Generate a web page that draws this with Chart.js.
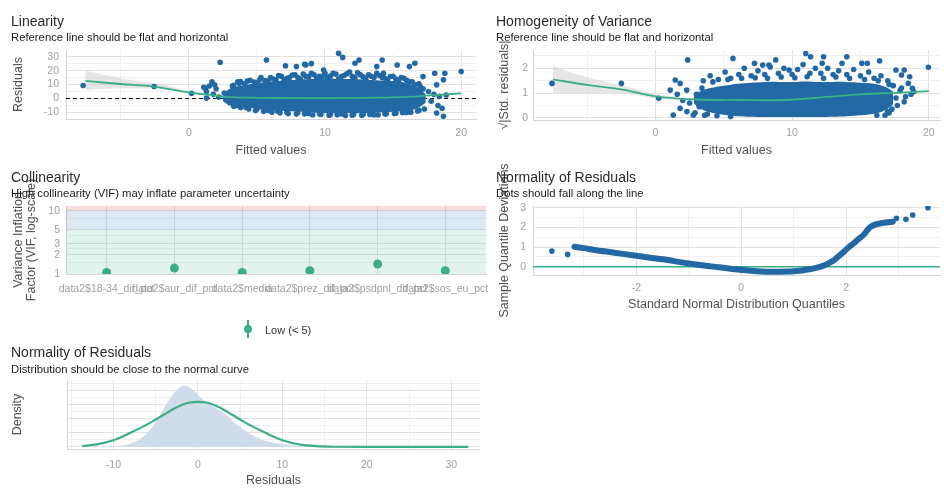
<!DOCTYPE html>
<html>
<head>
<meta charset="utf-8">
<script src="https://cdn.jsdelivr.net/npm/chart.js@4.4.0/dist/chart.umd.min.js"></script>
<style>
  body { margin: 0; background: #fff; font-family: 'Liberation Sans', Arial, sans-serif; }
  #page { position: relative; width: 944px; height: 489px; overflow: hidden; }
  canvas { position: absolute; }
  .ttl { position: absolute; font-size: 14px; line-height: 14px; color: #2a2a2a; white-space: nowrap; }
  .sub { position: absolute; font-size: 11.3px; line-height: 11px; color: #1a1a1a; white-space: nowrap; }
  .leg { position: absolute; font-size: 11px; line-height: 11px; color: #333; white-space: nowrap; }
</style>
</head>
<body>
<div id="page">
  <canvas id="lin" width="480" height="165" style="left:0;top:0"></canvas>
  <canvas id="hom" width="464" height="165" style="left:480px;top:0"></canvas>
  <canvas id="vif" width="500" height="180" style="left:0;top:160px"></canvas>
  <canvas id="qq" width="464" height="180" style="left:480px;top:145px"></canvas>
  <canvas id="dens" width="480" height="149" style="left:0;top:340px"></canvas>

  <div class="ttl" style="left:11px;top:14px">Linearity</div>
  <div class="sub" style="left:11px;top:32px">Reference line should be flat and horizontal</div>
  <div class="ttl" style="left:496px;top:14px">Homogeneity of Variance</div>
  <div class="sub" style="left:496px;top:32px">Reference line should be flat and horizontal</div>
  <div class="ttl" style="left:11px;top:170px">Collinearity</div>
  <div class="sub" style="left:11px;top:188px">High collinearity (VIF) may inflate parameter uncertainty</div>
  <div class="ttl" style="left:496px;top:170px">Normality of Residuals</div>
  <div class="sub" style="left:496px;top:188px">Dots should fall along the line</div>
  <div class="ttl" style="left:11px;top:345px">Normality of Residuals</div>
  <div class="sub" style="left:11px;top:364px">Distribution should be close to the normal curve</div>

  <div style="position:absolute;left:247px;top:320px;width:2px;height:18px;background:#3aaf85"></div>
  <div style="position:absolute;left:244px;top:325px;width:8px;height:8px;border-radius:50%;background:#3aaf85"></div>
  <div class="leg" style="left:265px;top:325px">Low (&lt; 5)</div>
</div>
<script>
// Linearity: residuals vs fitted
const linLoessX = [-7.6, -5, -2.5, 0, 2, 3.1, 5, 8, 11, 14, 16, 18, 20];
const linLoessY = [12.6, 10.4, 8.4, 4.4, 2.0, 1.0, 0.5, 0.3, 0.3, 0.6, 1.1, 2.4, 3.7];
const linBandX = [-7.6, -6, -4, -2, 0, 1.5];
const linBandHi = [20.5, 16.5, 13, 10.2, 5.3, 3.0];
const linBandLo = [6.0, 7.0, 7.3, 6.8, 3.8, 1.6];
const linBlobX = [2.5, 3, 4, 5, 6, 7, 8, 9, 10, 11, 12, 13, 14, 15, 16, 16.8, 17.4];
const linBlobHi = [3, 7, 9.5, 11, 12, 13, 13.5, 14, 14.5, 14, 14, 13.5, 13, 12.5, 11, 8, 3];
const linBlobLo = [-2, -4.5, -6, -7.5, -8.5, -9, -9.5, -10, -10.5, -10.5, -10.5, -10.5, -10, -9.5, -9, -7, -3];
const linPoints = [
  [-7.76, 9.3], [-2.55, 8.6], [0.2, 3.8], [2.3, 26], [5.7, 27.6], [11.0, 32.4], [11.3, 29.5], [20, 19.3],
  [18.06, 18.1], [18.8, 18.1], [18.7, 13.4], [18.2, 9.8], [18.2, -10.4], [18.7, -12.8], [16.6, 25.3],
  [15.3, 24], [14.2, 27.6], [12.5, 27.6], [12.2, 25.3], [9.9, 20.5], [9.0, 25], [8.6, 24], [8.5, 24.5],
  [7.9, 22.9], [7.1, 23.4], [3.8, 12.1], [1.7, 12], [1.9, 9.8], [1.2, 7.4], [1.3, 0.3], [13.8, 22.9],
  [14.3, 18.1], [16.2, 22.9], [17.2, 15.7],
  [3.2, 9], [3.6, 12], [4.1, 10.5], [4.5, 13], [5.0, 11.5], [5.3, 15], [5.8, 12.5], [6.2, 14], [6.6, 16.5],
  [7.0, 13], [7.4, 15], [7.8, 17], [8.2, 14], [8.6, 16], [9.0, 18], [9.4, 14.5], [9.8, 16], [10.2, 15],
  [10.6, 18], [11.0, 14], [11.4, 16.5], [11.8, 19], [12.2, 15], [12.6, 17], [13.0, 14], [13.4, 16],
  [13.8, 18], [14.2, 15], [14.6, 13.5], [15.0, 16], [15.4, 13], [15.8, 14.5], [16.2, 12], [16.6, 10],
  [17.0, 8.5], [17.6, 5], [18.0, 3], [18.4, 1.5], [17.8, -2], [18.3, -5], [18.6, -7], [18.9, 2.5],
  [3.0, -3], [3.5, -5], [4.2, -6.5], [5.0, -7.5], [5.8, -8.5], [6.5, -9], [7.2, -9.8], [8.0, -10.2],
  [8.8, -10.8], [9.6, -11], [10.4, -11.5], [11.2, -11], [12.0, -12], [12.8, -11.5], [13.6, -11.8],
  [14.4, -11], [15.2, -10.5], [16.0, -10], [16.8, -9], [17.3, -7.5],
  [1.3, 5], [1.5, 9], [1.8, 3], [2.0, 7], [2.2, 1], [2.6, 4], [2.8, -1.5], [1.1, 8],
  [3.3, 9.5], [3.7, 11], [4.3, 12.5], [4.8, 11.8], [5.2, 13.5], [5.6, 12.8], [6.0, 15], [6.4, 13.5],
  [6.8, 16], [7.2, 14.5], [7.6, 16.8], [8.0, 15], [8.4, 17.5], [8.8, 15.5], [9.2, 17], [9.6, 16],
  [10.0, 18], [10.4, 16.2], [10.8, 17.5], [11.2, 15.8], [11.6, 17.8], [12.0, 16], [12.4, 18.5],
  [12.8, 15.5], [13.2, 17], [13.6, 15], [14.0, 16.5], [14.4, 14.5], [14.8, 15.8], [15.2, 14], [15.6, 15],
  [16.0, 13], [16.4, 12], [16.9, 10.5], [17.2, 7],
  [3.3, -5.5], [3.8, -6.5], [4.4, -7.5], [4.9, -8.6], [5.5, -9.2], [6.1, -9.8], [6.7, -10.3], [7.3, -10.8],
  [7.9, -11.2], [8.5, -11], [9.1, -11.8], [9.7, -11.5], [10.3, -12], [10.9, -11.6], [11.5, -12.2],
  [12.1, -11.5], [12.7, -12], [13.3, -11.4], [13.9, -11.8], [14.5, -11], [15.1, -10.8], [15.7, -10.2],
  [16.3, -9.8], [16.9, -8.5]
];

// Homogeneity of variance: sqrt|std residuals| vs fitted
const homLoessX = [-7.5, -5, -2.5, 0, 3, 6, 9.5, 12, 15, 18, 20];
const homLoessY = [1.55, 1.33, 1.15, 0.87, 0.74, 0.72, 0.72, 0.82, 0.95, 1.02, 1.08];
const homBandX = [-7.5, -6, -4, -2, 0, 1.5];
const homBandHi = [2.1, 1.8, 1.5, 1.25, 0.95, 0.85];
const homBandLo = [1.0, 1.0, 1.0, 0.97, 0.78, 0.75];
const homBlobX = [2.8, 3.2, 4, 5, 6, 7, 8, 9, 10, 11, 12, 13, 14, 15, 16, 16.8, 17.4];
const homBlobHi = [0.85, 1.05, 1.2, 1.3, 1.38, 1.42, 1.45, 1.45, 1.45, 1.47, 1.45, 1.45, 1.45, 1.42, 1.38, 1.25, 1.05];
const homBlobLo = [0.6, 0.4, 0.22, 0.12, 0.06, 0.04, 0.03, 0.03, 0.03, 0.03, 0.03, 0.04, 0.06, 0.1, 0.16, 0.3, 0.55];
const homPoints = [
  [-7.57, 1.39], [-2.49, 1.39], [0.24, 0.79], [2.36, 2.34], [5.67, 2.4], [11.0, 2.6], [11.35, 2.47], [19.97, 2.04],
  [1.08, 1.12], [1.45, 1.53], [1.81, 1.39], [2.29, 1.12], [1.3, 0.11], [1.8, 0.38], [2.3, 0.25], [2.77, 0.11],
  [8.8, 2.34], [8.3, 2.13], [7.85, 2.13], [7.25, 2.2], [9.78, 1.93], [12.2, 2.2], [12.3, 2.47], [13.65, 2.2],
  [14.0, 2.47], [15.1, 2.2], [15.5, 2.2], [16.4, 2.3], [17.6, 1.93], [18.2, 1.93], [18.0, 1.73], [18.6, 1.66],
  [17.0, 0.25], [18.5, 1.39], [18.8, 1.19],
  [3.5, 1.5], [4, 1.7], [4.6, 1.55], [5.1, 1.85], [5.5, 1.6], [6.1, 1.75], [6.5, 2.0], [7.0, 1.7], [7.5, 1.9],
  [8.0, 1.75], [8.4, 2.05], [9.0, 1.8], [9.4, 2.0], [10.0, 1.75], [10.4, 1.95], [10.8, 2.15], [11.3, 1.8],
  [11.7, 2.0], [12.1, 1.8], [12.6, 2.0], [13.0, 1.75], [13.4, 1.9], [14.0, 1.75], [14.5, 1.95], [15.0, 1.7],
  [15.6, 1.85], [16.0, 1.6], [16.5, 1.7], [17.0, 1.5], [17.4, 1.3], [17.9, 1.1], [18.3, 0.85], [18.7, 0.95],
  [18.9, 1.05], [18.2, 0.65], [2.5, 0.6], [2.9, 0.2], [3.2, 0.45], [3.6, 0.1], [17.3, 0.35], [16.8, 0.1],
  [17.7, 0.5], [2.0, 0.7], [1.6, 0.95],
  [4.2, 1.45], [5.3, 1.55], [6.3, 1.6], [7.3, 1.62], [8.2, 1.6], [9.2, 1.65], [10.2, 1.62], [11.1, 1.66],
  [12.3, 1.6], [13.2, 1.65], [14.2, 1.6], [15.3, 1.55], [16.3, 1.5], [17.1, 1.35], [3.0, 0.95], [3.4, 1.2],
  [3.8, 0.15], [4.5, 0.08], [5.5, 0.05], [16.2, 0.1], [17.1, 0.2], [17.6, 0.8], [18.0, 1.2]
];

// Collinearity
const vifTerms = ['data2$18-34_dif_pct', 'data2$aur_dif_pct', 'data2$media', 'data2$prez_dif_pct', 'data2$psdpnl_dif_pct', 'data2$sos_eu_pct'];
const vifValues = [1.06, 1.24, 1.06, 1.13, 1.44, 1.13];
const vifZones = [1, 5, 10, 11.9];

// Normality (QQ)
const qqCurveX = [-3.18, -3.0, -2.8, -2.45, -2.0, -1.5, -1.0, -0.57, -0.2, 0, 0.38, 0.7, 1.0, 1.3, 1.5, 1.62, 1.75, 1.81, 1.94, 2.05, 2.14, 2.23, 2.33, 2.45, 2.55, 2.64, 2.8, 2.89];
const qqCurveY = [1.02, 0.95, 0.86, 0.73, 0.56, 0.38, 0.17, 0.02, -0.1, -0.16, -0.24, -0.25, -0.23, -0.13, 0.0, 0.12, 0.3, 0.43, 0.73, 1.0, 1.19, 1.4, 1.62, 2.0, 2.15, 2.21, 2.27, 2.3];
const qqTails = [[-3.61, 0.8], [-3.31, 0.63], [2.96, 2.47], [3.14, 2.42], [3.27, 2.64], [3.56, 3.01]];

// Normality (density)
const densX = [-9.5, -8.5, -7.5, -6.5, -5.5, -4.5, -3.5, -2.5, -1.8, -1.2, -0.5, 0.5, 1.5, 2.5, 3.5, 4.5, 5.5, 6.5, 7.5, 8.5, 10, 12, 15, 20, 32];
const densY = [0, 0.003, 0.007, 0.014, 0.027, 0.045, 0.065, 0.081, 0.087, 0.086, 0.08, 0.068, 0.059, 0.052, 0.044, 0.033, 0.024, 0.016, 0.011, 0.007, 0.004, 0.0015, 0.0005, 0.0002, 0];
const normX = [-13.7, -12, -10, -8, -6, -5, -4, -3, -2, -1, 0, 1, 2, 3, 4, 5, 6, 8, 10, 12, 14, 16, 20, 32];
const normY = [0.001, 0.0035, 0.0095, 0.02, 0.032, 0.039, 0.046, 0.053, 0.059, 0.063, 0.064, 0.063, 0.059, 0.053, 0.046, 0.039, 0.032, 0.02, 0.0095, 0.0035, 0.001, 0.0002, 0, 0];

const BLUE = '#2268a4', GREEN = '#3aaf85';
const gridMajor = '#e2e2e2', gridMinor = '#f0f0f0';
Chart.defaults.font.family = "'Liberation Sans', Arial, sans-serif";

function xy(xs, ys) { return xs.map((x, i) => ({x: x, y: ys[i]})); }
function pairs(list) { return list.map(p => ({x: p[0], y: p[1]})); }

function axis(o) {
  const minor = o.minor || [];
  return {
    type: o.type || 'linear',
    position: o.pos,
    min: o.min, max: o.max,
    afterBuildTicks: s => { s.ticks = o.major.concat(minor).sort((a, b) => a - b).map(v => ({value: v})); },
    afterFit: s => { if (o.pos === 'bottom') s.height = o.size; else s.width = o.size; },
    grid: { drawTicks: false, color: c => (c.tick && minor.includes(c.tick.value)) ? gridMinor : gridMajor },
    border: { display: true, color: '#d6d6d6' },
    ticks: {
      padding: o.tickPad, color: '#a0a0a0', font: {size: 10.5},
      autoSkip: false, maxRotation: 0, minRotation: 0,
      callback: v => (minor.includes(v) || o.noLabels) ? '' : (o.fmt ? o.fmt(v) : String(v))
    },
    title: o.title ? {
      display: true, text: o.title, color: '#505050',
      font: {size: 12.5, lineHeight: o.lh || 1.2},
      padding: o.pos === 'bottom' ? {top: 0, bottom: o.titlePad} : {top: o.titlePad, bottom: 0}
    } : {display: false}
  };
}

function pts(data, color, r, order) {
  return {data: data, showLine: false, pointRadius: r, pointBackgroundColor: color, pointBorderWidth: 0, order: order};
}
function line(data, color, w, order, extra) {
  return Object.assign({data: data, borderColor: color, borderWidth: w, pointRadius: 0, fill: false, tension: 0.4, order: order}, extra || {});
}

function make(id, datasets, scales, pad) {
  new Chart(document.getElementById(id), {
    type: 'line',
    data: {datasets: datasets},
    options: {
      responsive: false, animation: false, events: [],
      layout: {padding: pad},
      plugins: {legend: {display: false}, tooltip: {enabled: false}},
      scales: scales
    }
  });
}

// Linearity
const linX = {min: -9.02, max: 21.09}, linY = {min: -14.7, max: 34.8};
make('lin', [
  line(xy(linLoessX, linLoessY), GREEN, 1.8, 0),
  pts(pairs(linPoints), BLUE, 2.8, 1),
  line(xy(linBlobX, linBlobHi), 'rgba(0,0,0,0)', 0, 2),
  line(xy(linBlobX, linBlobLo), 'rgba(0,0,0,0)', 0, 2, {fill: '-1', backgroundColor: BLUE}),
  line([{x: linX.min, y: 0}, {x: linX.max, y: 0}], '#111', 1, 3, {borderDash: [4, 3], tension: 0}),
  line(xy(linBandX, linBandHi), 'rgba(0,0,0,0)', 0, 4),
  line(xy(linBandX, linBandLo), 'rgba(0,0,0,0)', 0, 4, {fill: '-1', backgroundColor: 'rgba(200,200,200,0.45)'})
], {
  x: axis({pos: 'bottom', min: linX.min, max: linX.max, major: [0, 10, 20], minor: [-5, 5, 15], size: 46, tickPad: 8, title: 'Fitted values', titlePad: 6.8}),
  y: axis({pos: 'left', min: linY.min, max: linY.max, major: [-10, 0, 10, 20, 30], minor: [-5, 5, 15, 25], size: 66, tickPad: 7, title: 'Residuals', titlePad: 10.8})
}, {top: 50, left: 0, right: 0, bottom: 0});

// Homogeneity of variance
const homX = {min: -8.96, max: 20.82}, homY = {min: -0.089, max: 2.74};
make('hom', [
  line(xy(homLoessX, homLoessY), GREEN, 1.8, 0),
  pts(pairs(homPoints), BLUE, 2.8, 1),
  line(xy(homBlobX, homBlobHi), 'rgba(0,0,0,0)', 0, 2),
  line(xy(homBlobX, homBlobLo), 'rgba(0,0,0,0)', 0, 2, {fill: '-1', backgroundColor: BLUE}),
  line(xy(homBandX, homBandHi), 'rgba(0,0,0,0)', 0, 4),
  line(xy(homBandX, homBandLo), 'rgba(0,0,0,0)', 0, 4, {fill: '-1', backgroundColor: 'rgba(200,200,200,0.45)'})
], {
  x: axis({pos: 'bottom', min: homX.min, max: homX.max, major: [0, 10, 20], minor: [-5, 5, 15], size: 45, tickPad: 7, title: 'Fitted values', titlePad: 6.8}),
  y: axis({pos: 'left', min: homY.min, max: homY.max, major: [0, 1, 2], minor: [0.5, 1.5, 2.5], size: 53, tickPad: 5, title: '√|Std. residuals|', titlePad: 17.5})
}, {top: 50, left: 0, right: 0, bottom: 0});

// Collinearity
const vifX = {min: 0.4, max: 6.6};
make('vif', [
  pts(xy(vifValues.map((v, i) => i + 1), vifValues), GREEN, 4.5, 0),
  line([{x: vifX.min, y: vifZones[1]}, {x: vifX.max, y: vifZones[1]}], 'rgba(0,0,0,0)', 0, 1, {fill: {value: vifZones[0]}, backgroundColor: 'rgba(58,175,133,0.15)', tension: 0}),
  line([{x: vifX.min, y: vifZones[2]}, {x: vifX.max, y: vifZones[2]}], 'rgba(0,0,0,0)', 0, 1, {fill: {value: vifZones[1]}, backgroundColor: 'rgba(27,108,168,0.15)', tension: 0}),
  line([{x: vifX.min, y: vifZones[3]}, {x: vifX.max, y: vifZones[3]}], 'rgba(0,0,0,0)', 0, 1, {fill: {value: vifZones[2]}, backgroundColor: 'rgba(205,32,31,0.15)', tension: 0})
], {
  x: axis({pos: 'bottom', min: vifX.min, max: vifX.max, major: [1, 2, 3, 4, 5, 6], size: 66, tickPad: 8.5, fmt: v => vifTerms[v - 1]}),
  y: axis({type: 'logarithmic', pos: 'left', min: 1, max: 11.9, major: [1, 2, 3, 5, 10], minor: [1.5, 2.5, 4, 7.5], size: 66, tickPad: 6,
           title: ['Variance Inflation', 'Factor (VIF, log-scale)'], titlePad: 11.85, lh: 1.064})
}, {top: 46, left: 0, right: 14, bottom: 0});

// QQ plot
const qqX = {min: -3.97, max: 3.79};
make('qq', [
  pts(pairs(qqTails), BLUE, 2.8, 0),
  line(xy(qqCurveX, qqCurveY), BLUE, 6, 1, {tension: 0.3, borderCapStyle: 'round'}),
  line([{x: qqX.min, y: 0}, {x: qqX.max, y: 0}], GREEN, 1.6, 2, {tension: 0})
], {
  x: axis({pos: 'bottom', min: qqX.min, max: qqX.max, major: [-2, 0, 2], minor: [-3, -1, 1, 3], size: 50, tickPad: 7, title: 'Standard Normal Distribution Quantiles', titlePad: 12.5}),
  y: axis({pos: 'left', min: -0.42, max: 3.1, major: [0, 1, 2, 3], minor: [0.5, 1.5, 2.5], size: 53, tickPad: 7, title: 'Sample Quantile Deviations', titlePad: 17.5})
}, {top: 61, left: 0, right: 0, bottom: 0});

// Density
make('dens', [
  line(xy(normX, normY), GREEN, 2.2, 0, {cubicInterpolationMode: 'monotone'}),
  line(xy(densX, densY), 'rgba(0,0,0,0)', 0, 1, {fill: 'origin', backgroundColor: '#cfdcea', tension: 0.35})
], {
  x: axis({pos: 'bottom', min: -15.5, max: 33.4, major: [-10, 0, 10, 20, 30], minor: [-15, -5, 5, 15, 25], size: 40, tickPad: 10.3, title: 'Residuals', titlePad: 0.5}),
  y: axis({pos: 'left', min: -0.003, max: 0.095, major: [0, 0.02, 0.04, 0.06, 0.08], minor: [0.01, 0.03, 0.05, 0.07, 0.09], size: 67, tickPad: 5, noLabels: true, title: 'Density', titlePad: 10.5})
}, {top: 40, left: 0, right: 0, bottom: 0});
</script>
</body>
</html>
